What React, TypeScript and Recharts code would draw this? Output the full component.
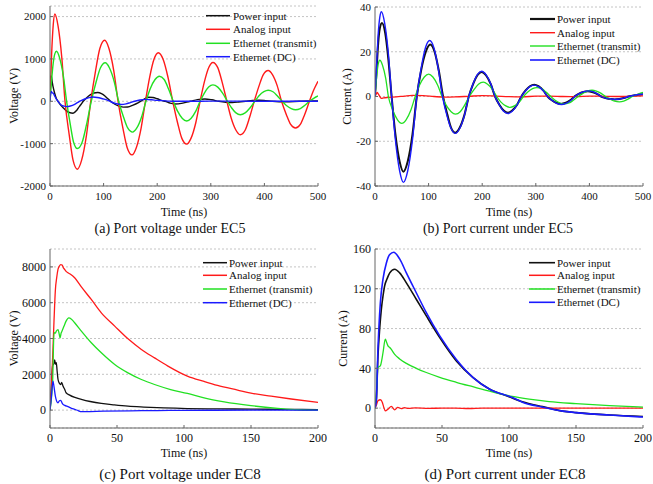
import React from 'react';
import { LineChart, Line, XAxis, YAxis, CartesianGrid } from 'recharts';

type Pt = [number, number];

const FONT = "'Liberation Serif', 'Times New Roman', serif";

// ---------- series names & colours ----------
const seriesNames = ['Power input', 'Analog input', 'Ethernet (transmit)', 'Ethernet (DC)'];
const seriesColors = ['#111111', '#ff1a1a', '#22e022', '#1a1aff'];

// ---------- (a) Port voltage under EC5 : [time ns, voltage V] ----------
const aPower: Pt[] = [[0,450],[1.5,600],[2.5,590],[4,470],[5.6,350],[8.7,190],[12,60],[15,0],[20,-90],[25,-160],[30,-220],[36,-265],[43,-282],[50,-210],[55,-120],[58,-70],[62,0],[68,80],[75,150],[82,195],[89,206],[96,180],[103,120],[108,60],[113,0],[121,-70],[130,-120],[137,-138],[145,-135],[155,-90],[165,-30],[172,20],[178,70],[184,97],[192,90],[200,60],[210,15],[215,0],[224,-45],[233,-63],[245,-50],[255,-20],[262,0],[275,40],[289,55],[302,35],[315,0],[328,-22],[340,-28],[352,-18],[365,0],[378,18],[390,24],[402,15],[415,0],[440,-12],[465,0],[490,8],[500,6]];
const aAnalog: Pt[] = [[0,0],[3,1100],[6,1800],[9,2060],[15,1780],[22,1030],[28,0],[36,-803],[43,-1390],[51,-1605],[59,-1390],[68,-803],[76,0],[85,720],[93,1247],[102,1440],[110,1247],[119,720],[127,0],[136,-633],[144,-1096],[153,-1265],[161,-1096],[170,-633],[178,0],[186,573],[194,992],[202,1145],[211,992],[220,573],[229,0],[238,-506],[246,-876],[255,-1012],[263,-876],[272,-506],[280,0],[288,459],[296,794],[304,917],[313,794],[321,459],[330,0],[338,-395],[347,-684],[355,-790],[364,-684],[372,-395],[381,0],[390,364],[398,630],[407,727],[415,630],[424,364],[432,0],[441,-316],[449,-547],[458,-632],[467,-547],[475,-316],[484,0],[492,265],[500,474]];
const aEthTx: Pt[] = [[0,0],[3,500],[6,900],[9,1120],[12,1180],[18,1020],[25,590],[31,0],[38,-558],[44,-966],[51,-1115],[60,-966],[68,-558],[77,0],[86,455],[94,787],[103,909],[111,787],[120,455],[128,0],[137,-364],[145,-630],[154,-727],[162,-630],[171,-364],[179,0],[187,297],[196,514],[204,593],[213,514],[221,297],[230,0],[238,-233],[247,-404],[255,-466],[263,-404],[272,-233],[280,0],[288,194],[296,335],[304,387],[313,335],[322,194],[331,0],[339,-158],[347,-274],[355,-316],[364,-274],[373,-158],[382,0],[390,131],[399,226],[407,261],[416,226],[424,131],[433,0],[441,-99],[450,-171],[458,-198],[467,-171],[475,-99],[484,0],[492,70],[500,126]];
const aEthDC: Pt[] = [[0,0],[1,150],[2.5,230],[4,200],[6,190],[9,120],[12,50],[16,-20],[21,-90],[26,-115],[31,-125],[38,-110],[46,-70],[52,-25],[58,17],[66,60],[73,88],[80,100],[88,90],[95,72],[101,50],[110,10],[118,-35],[126,-65],[133,-75],[142,-60],[150,-30],[158,0],[168,30],[178,45],[190,35],[200,22],[210,15],[222,5],[233,0],[260,0],[300,5],[350,5],[400,0],[450,0],[500,0]];

// ---------- (b) Port current under EC5 : [time ns, current A] ----------
const bPower: Pt[] = [[0,0],[3,12],[6,24],[9,30.5],[13,32.9],[19,28.5],[25,16.5],[31,0],[38,-16.8],[46,-29.1],[53,-33.6],[61,-29.1],[70,-16.8],[78,0],[86,11.6],[95,20.1],[103,23.2],[111,20.1],[119,11.6],[127,0],[135,-8.1],[142,-14],[150,-16.2],[158,-14],[167,-8.1],[175,0],[183,5.5],[191,9.5],[199,11],[207,9.5],[216,5.5],[224,0],[232,-3.7],[240,-6.3],[248,-7.3],[256,-6.3],[265,-3.7],[273,0],[281,2.7],[289,4.6],[297,5.3],[305,4.6],[314,2.7],[322,0],[330,-1.7],[339,-2.9],[347,-3.3],[355,-2.9],[364,-1.7],[372,0],[380,1.2],[389,2],[397,2.3],[405,2],[414,1.2],[422,0],[430,-0.7],[439,-1.1],[447,-1.3],[456,-1.1],[464,-0.7],[473,0],[486,0.6],[500,1]];
const bAnalog: Pt[] = [[0,0],[2,1],[4,1.8],[6,1.2],[9,0],[12,-0.8],[16,-0.6],[25,-0.4],[40,-0.2],[55,0.2],[70,0.5],[90,0.4],[110,0],[130,-0.3],[150,-0.2],[175,0.1],[200,0.4],[225,0.2],[250,-0.1],[275,-0.2],[300,0.2],[325,0.2],[350,0],[375,-0.1],[400,0.2],[425,0.1],[450,0],[475,0.1],[500,0.3]];
const bEthTx: Pt[] = [[0,0],[2,6],[4,11],[6,14.5],[9,16.2],[14,14],[20,8.1],[25,0],[33,-6],[42,-10.4],[50,-12],[58,-10.4],[67,-6],[75,0],[83,5],[92,8.7],[100,10],[108,8.7],[117,5],[125,0],[133,-4],[142,-6.8],[150,-7.9],[159,-6.8],[167,-4],[176,0],[185,3.2],[193,5.5],[202,6.4],[210,5.5],[219,3.2],[227,0],[235,-2.5],[244,-4.2],[252,-4.9],[260,-4.2],[269,-2.5],[277,0],[285,2],[294,3.5],[302,4],[311,3.5],[319,2],[328,0],[336,-1.7],[345,-2.9],[353,-3.3],[362,-2.9],[370,-1.7],[379,0],[388,1.4],[396,2.4],[405,2.8],[413,2.4],[422,1.4],[430,0],[439,-1.2],[447,-2.1],[456,-2.4],[464,-2.1],[472,-1.2],[480,0],[490,1],[500,1.8]];
const bEthDC: Pt[] = [[0,0],[3,14],[6,28],[9,35.5],[12,37.9],[18,32.8],[25,19],[31,0],[38,-19.2],[46,-33.3],[53,-38.4],[61,-33.3],[70,-19.2],[78,0],[86,12.5],[94,21.7],[102,25],[110,21.7],[118,12.5],[126,0],[134,-8.3],[142,-14.3],[150,-16.5],[158,-14.3],[167,-8.3],[175,0],[183,5.7],[191,9.8],[199,11.3],[207,9.8],[216,5.7],[224,0],[232,-3.8],[240,-6.6],[248,-7.6],[256,-6.6],[265,-3.8],[273,0],[281,2.6],[289,4.4],[297,5.1],[305,4.4],[314,2.6],[322,0],[331,-1.8],[339,-3.1],[348,-3.6],[356,-3.1],[365,-1.8],[373,0],[381,1.3],[390,2.2],[398,2.5],[406,2.2],[414,1.3],[422,0],[430,-0.7],[439,-1.1],[447,-1.3],[456,-1.1],[464,-0.7],[473,0],[486,0.7],[500,1]];

// ---------- (c) Port voltage under EC8 : [time ns, voltage V] ----------
const cPower: Pt[] = [[0,0],[1,1200],[2,2500],[3,2600],[3.5,2800],[4.2,2550],[4.7,2650],[5.3,2200],[6,1710],[7,1500],[8,1430],[8.7,1550],[9.7,1340],[11,1150],[12,970],[14.7,840],[18,720],[23.4,600],[30,480],[38.3,370],[48,290],[58.2,220],[70,170],[85,120],[102.5,85],[125,70],[150,55],[175,40],[200,30]];
const cAnalog: Pt[] = [[0,0],[1,1200],[2,3000],[3,5000],[4,6700],[5,7400],[6,7870],[7,8050],[8,8130],[9,8100],[10,7950],[11,7850],[12,7750],[13.4,7670],[15,7600],[18.4,7390],[23.4,6880],[30.8,6180],[38.3,5430],[48.3,4690],[58.2,3980],[68.2,3390],[78,2920],[88,2460],[102.5,1900],[115,1600],[125,1380],[140,1120],[150,950],[165,780],[180,620],[200,430]];
const cEthTx: Pt[] = [[0,0],[1,600],[2,1700],[3,4320],[4,4300],[4.7,4410],[6,4500],[7,4200],[7.5,4040],[8.3,4300],[9,4420],[10.5,4700],[12,4970],[14,5150],[16,5080],[18.4,4880],[23.4,4410],[30.8,3760],[38.3,3200],[48.3,2550],[58.2,2080],[68.2,1710],[78,1430],[90,1150],[102.5,930],[115,680],[130,460],[150,250],[170,100],[185,20],[200,0]];
const cEthDC: Pt[] = [[0,0],[1,700],[2.2,1620],[3,1300],[4,780],[5,500],[6,410],[7,520],[8,540],[9,400],[9.7,320],[11,260],[13.4,190],[16,100],[18.4,40],[21,-30],[23.4,-90],[30,-80],[40,-60],[60,-40],[80,-25],[100,-15],[150,-5],[200,0]];

// ---------- (d) Port current under EC8 : [time ns, current A] ----------
const dPower: Pt[] = [[0,0],[1,8],[2.2,52],[3.5,80],[4.7,99],[6,113],[7.2,123],[9,130],[11,136],[14.7,139.6],[18.4,136],[23.4,126],[30.8,109.5],[38.3,92.7],[48.3,71],[60.7,47.5],[73,31],[85.6,19],[100,11.5],[110,6.5],[125,1.5],[140,-3],[150,-4.5],[175,-7],[200,-8.5]];
const dAnalog: Pt[] = [[0,0],[1,3],[2.2,7.4],[4,8.4],[5.5,5.7],[6.5,1],[7.7,-2.7],[9.7,-1],[12.2,1.7],[14.7,-1.7],[17,0.7],[19.7,-0.5],[22,0.5],[25,-0.3],[30,0.2],[40,-0.3],[50,0],[60,0],[70,-0.4],[80,0],[100,0],[150,0],[200,0]];
const dEthTx: Pt[] = [[0,0],[1,15],[2.2,41],[4,42.5],[5,48],[6,56],[7.7,69.3],[8.7,66],[9.7,62.6],[11,61],[12.2,59],[14.7,54],[18.4,49.5],[23.4,45],[30.8,40],[38.3,35.8],[48.3,31],[60.7,26],[73,21.5],[85.6,17],[102.5,11.7],[115,9],[130,6.5],[150,4.5],[175,2.5],[200,1]];
const dEthDC: Pt[] = [[0,0],[1,8],[2.2,59],[4,106],[6,130],[8.5,146],[11,154.5],[14,156.8],[18.4,150],[23.4,136],[30.8,116],[38.3,96],[48.3,72.6],[60.7,49],[73,31],[85.6,19],[102.5,10.7],[110,6],[125,1],[140,-3],[150,-4.5],[175,-7],[200,-9]];

// ---------- axes ----------
const xTicksEC5 = [0, 100, 200, 300, 400, 500];
const xTicksEC8 = [0, 50, 100, 150, 200];
const yTicksA = [-2000, -1000, 0, 1000, 2000];
const yTicksB = [-40, -20, 0, 20, 40];
const yTicksC = [0, 2000, 4000, 6000, 8000];
const yTicksD = [0, 40, 80, 120, 160];

const toData = (pts: Pt[]) => pts.map(([t, v]) => ({ t, v }));

interface PanelProps {
  left: number; top: number; width: number; height: number;
  marginTop: number; marginRight: number;
  series: Pt[][]; widths: number[];
  xDomain: [number, number]; xTicks: number[];
  yDomain: [number, number]; yTicks: number[];
  yLabel: string; yLabelOffset: number; xLabelOffset: number;
  tickFont: number; xTickGap: number;
}

function Panel(p: PanelProps) {
  const axisColor = '#666';
  const tickStyle = { fill: '#111', fontSize: p.tickFont, fontFamily: FONT };
  return (
    <div style={{ position: 'absolute', left: p.left, top: p.top }}>
      <LineChart width={p.width} height={p.height}
        margin={{ top: p.marginTop, right: p.marginRight, bottom: 0, left: 0 }}>
        <CartesianGrid xAxisId="b" yAxisId="l" vertical={false} stroke="#c4c4c4" strokeDasharray="2 2" />
        <XAxis xAxisId="b" type="number" dataKey="t" domain={p.xDomain} ticks={p.xTicks}
          allowDataOverflow height={34} stroke={axisColor} tickSize={-3} tickMargin={p.xTickGap + 3}
          tick={tickStyle} interval={0}
          label={{ value: 'Time (ns)', position: 'insideBottom', offset: p.xLabelOffset,
            style: { fontSize: 12, fontFamily: FONT, fill: '#111' } }} />
        <XAxis xAxisId="top" orientation="top" type="number" domain={p.xDomain} ticks={p.xTicks}
          allowDataOverflow height={0} stroke={axisColor} tickSize={-3} tick={false} />
        <YAxis yAxisId="l" type="number" domain={p.yDomain} ticks={p.yTicks} allowDataOverflow
          width={50} stroke={axisColor} tickSize={-3} tickMargin={7} tick={tickStyle} interval={0}
          label={{ value: p.yLabel, angle: -90, position: 'insideLeft', offset: p.yLabelOffset,
            style: { textAnchor: 'middle', fontSize: 12, fontFamily: FONT, fill: '#111' } }} />
        <YAxis yAxisId="r" orientation="right" type="number" domain={p.yDomain} ticks={p.yTicks}
          allowDataOverflow width={0} stroke={axisColor} tickSize={-3} tick={false} />
        {p.series.map((s, i) => (
          <Line key={i} xAxisId="b" yAxisId="l" data={toData(s)} dataKey="v" name={seriesNames[i]}
            type="monotone" stroke={seriesColors[i]} strokeWidth={p.widths[i]} dot={false}
            isAnimationActive={false} />
        ))}
      </LineChart>
    </div>
  );
}

interface LegendProps { x1: number; x2: number; tx: number; ys: number[]; widths: number[] }

function LegendBox({ x1, x2, tx, ys, widths }: LegendProps) {
  return (
    <g>
      {seriesNames.map((n, i) => (
        <g key={n}>
          <line x1={x1} x2={x2} y1={ys[i]} y2={ys[i]} stroke={seriesColors[i]} strokeWidth={widths[i]} />
          <text x={tx} y={ys[i]} dominantBaseline="central" fontSize={11} fontFamily={FONT} fill="#111">{n}</text>
        </g>
      ))}
    </g>
  );
}

const captionStyle = (cx: number, cy: number, size: number): React.CSSProperties => ({
  position: 'absolute', left: cx - 150, top: cy - size * 0.6, width: 300, textAlign: 'center',
  fontFamily: FONT, fontSize: size, color: '#111', lineHeight: `${size * 1.2}px`, whiteSpace: 'nowrap',
});

export default function App() {
  return (
    <div style={{ position: 'absolute', left: 0, top: 0, width: 653, height: 484, background: '#fff', overflow: 'hidden' }}>
      <Panel left={0} top={0} width={330} height={220} marginTop={6} marginRight={12}
        series={[aPower, aAnalog, aEthTx, aEthDC]} widths={[1.4, 1.4, 1.4, 1.4]}
        xDomain={[0, 500]} xTicks={xTicksEC5} yDomain={[-2000, 2250]} yTicks={yTicksA}
        yLabel="Voltage (V)" yLabelOffset={14} xLabelOffset={4.5} tickFont={11} xTickGap={6} />
      <Panel left={325} top={0} width={328} height={220} marginTop={7} marginRight={10}
        series={[bPower, bAnalog, bEthTx, bEthDC]} widths={[2, 1.3, 1.3, 1.4]}
        xDomain={[0, 500]} xTicks={xTicksEC5} yDomain={[-40, 40]} yTicks={yTicksB}
        yLabel="Current (A)" yLabelOffset={22} xLabelOffset={4.5} tickFont={11} xTickGap={6} />
      <Panel left={0} top={240} width={330} height={222} marginTop={9} marginRight={12}
        series={[cPower, cAnalog, cEthTx, cEthDC]} widths={[1.3, 1.3, 1.3, 1.3]}
        xDomain={[0, 200]} xTicks={xTicksEC8} yDomain={[-1000, 9000]} yTicks={yTicksC}
        yLabel="Voltage (V)" yLabelOffset={14} xLabelOffset={5.5} tickFont={12} xTickGap={5} />
      <Panel left={325} top={240} width={328} height={222} marginTop={9} marginRight={10}
        series={[dPower, dAnalog, dEthTx, dEthDC]} widths={[1.6, 1.3, 1.3, 1.6]}
        xDomain={[0, 200]} xTicks={xTicksEC8} yDomain={[-20, 160]} yTicks={yTicksD}
        yLabel="Current (A)" yLabelOffset={18} xLabelOffset={5.5} tickFont={12} xTickGap={5} />

      <svg width={653} height={484} style={{ position: 'absolute', left: 0, top: 0, pointerEvents: 'none' }}>
        <LegendBox x1={206} x2={230} tx={233} ys={[15.7, 29.3, 43.3, 56.7]} widths={[1.5, 1.5, 1.5, 1.5]} />
        <LegendBox x1={530} x2={555} tx={557} ys={[19, 32.7, 46, 60]} widths={[2.2, 1.4, 1.4, 1.6]} />
        <LegendBox x1={203} x2={227} tx={229} ys={[262.7, 275.3, 289, 302.7]} widths={[1.5, 1.5, 1.5, 1.5]} />
        <LegendBox x1={529} x2={555} tx={557} ys={[262.7, 275.3, 289, 302.3]} widths={[1.6, 1.5, 1.5, 1.6]} />
      </svg>

      <div style={captionStyle(170, 229, 14)}>(a) Port voltage under EC5</div>
      <div style={captionStyle(498, 229, 14)}>(b) Port current under EC5</div>
      <div style={captionStyle(180, 474, 15)}>(c) Port voltage under EC8</div>
      <div style={captionStyle(505, 474, 15)}>(d) Port current under EC8</div>
    </div>
  );
}
